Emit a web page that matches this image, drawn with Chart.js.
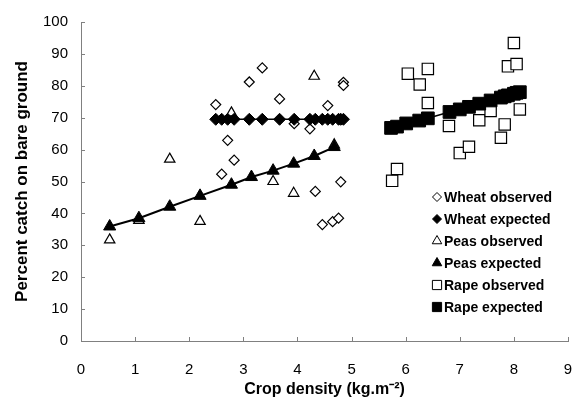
<!DOCTYPE html>
<html>
<head>
<meta charset="utf-8">
<script src="https://cdn.jsdelivr.net/npm/chart.js@4.4.1/dist/chart.umd.min.js"></script>
<style>
  body { margin: 0; background: #fff; }
</style>
</head>
<body>
<canvas id="myChart" width="575" height="400"></canvas>
<script>
// wheat
const wheatObsX = [2.49, 2.60, 2.71, 2.83, 3.11, 3.35, 3.67, 3.94, 4.23, 4.33, 4.46, 4.56, 4.65, 4.76, 4.80, 4.85, 4.85];
const wheatObsY = [74.1, 52.3, 62.9, 56.7, 81.2, 85.6, 75.9, 68.1, 66.5, 46.9, 36.5, 73.8, 37.4, 38.5, 49.9, 81.1, 80.1];
const wheatExpX = [2.49, 2.60, 2.71, 2.83, 3.11, 3.35, 3.67, 3.94, 4.23, 4.33, 4.46, 4.56, 4.65, 4.76, 4.80, 4.85];
const wheatExpY = [69.5, 69.5, 69.5, 69.5, 69.5, 69.5, 69.5, 69.5, 69.5, 69.5, 69.5, 69.5, 69.5, 69.5, 69.5, 69.5];

// peas
const peasObsX = [0.53, 1.07, 1.64, 2.20, 2.78, 3.55, 3.93, 4.31, 4.68];
const peasObsY = [31.7, 37.8, 57.0, 37.5, 71.5, 50.0, 46.3, 83.0, 61.5];
const peasExpX = [0.53, 1.07, 1.64, 2.20, 2.78, 3.15, 3.55, 3.93, 4.31, 4.68];
const peasExpY = [35.9, 38.5, 42.1, 45.5, 49.0, 51.4, 53.4, 55.6, 58.0, 60.8];

// rape
const rapeObsX = [5.75, 5.84, 6.04, 6.26, 6.41, 6.41, 6.80, 7.00, 7.17, 7.36, 7.57, 7.76, 7.83, 7.89, 8.00, 8.05, 8.11];
const rapeObsY = [50.2, 53.9, 83.8, 80.4, 85.3, 74.6, 67.4, 58.9, 60.9, 69.2, 72.1, 63.7, 67.9, 86.1, 93.4, 86.8, 72.6];
const rapeExpX = [5.73, 5.84, 6.01, 6.25, 6.41, 6.81, 7.00, 7.17, 7.36, 7.57, 7.76, 7.83, 7.89, 8.00, 8.05, 8.11];
const rapeExpY = [66.8, 67.2, 68.2, 69.1, 69.8, 71.8, 72.6, 73.4, 74.4, 75.4, 76.3, 76.7, 77.0, 77.5, 77.8, 78.0];

const seriesNames = ["Wheat observed", "Wheat expected", "Peas observed", "Peas expected", "Rape observed", "Rape expected"];

const FONT = "'Liberation Sans', Arial, Helvetica, sans-serif";

function pts(xs, ys) {
  return xs.map((x, i) => ({x: x, y: ys[i]}));
}

function observed(label, xs, ys, style, r) {
  return {
    label: label,
    data: pts(xs, ys),
    showLine: false,
    pointStyle: style,
    pointRadius: r,
    pointBackgroundColor: "#fff",
    pointBorderColor: "#000",
    pointBorderWidth: 1.2,
    order: 1
  };
}

function expected(label, xs, ys, style, r, lw) {
  return {
    label: label,
    data: pts(xs, ys),
    showLine: true,
    borderColor: "#000",
    borderWidth: lw,
    pointStyle: style,
    pointRadius: r,
    pointBackgroundColor: "#000",
    pointBorderColor: "#000",
    pointBorderWidth: 1,
    order: 0
  };
}

// small ticks pointing into the plot
const innerTicks = {
  id: "innerTicks",
  afterDraw(chart) {
    const ctx = chart.ctx;
    const a = chart.chartArea;
    ctx.save();
    ctx.strokeStyle = "#808080";
    ctx.lineWidth = 1;
    chart.scales.x.ticks.forEach(t => {
      const px = Math.round(chart.scales.x.getPixelForValue(t.value)) + 0.5;
      ctx.beginPath();
      ctx.moveTo(px, a.bottom);
      ctx.lineTo(px, a.bottom - 4);
      ctx.stroke();
    });
    chart.scales.y.ticks.forEach(t => {
      const py = Math.round(chart.scales.y.getPixelForValue(t.value)) + 0.5;
      ctx.beginPath();
      ctx.moveTo(a.left, py);
      ctx.lineTo(a.left + 4, py);
      ctx.stroke();
    });
    ctx.restore();
  }
};

// legend inside the plot, lower right
const insideLegend = {
  id: "insideLegend",
  afterDraw(chart) {
    const ctx = chart.ctx;
    ctx.save();
    ctx.font = "bold 14px " + FONT;
    ctx.textBaseline = "middle";
    chart.data.datasets.forEach((ds, i) => {
      const y = 197 + i * 22;
      const x = 437;
      ctx.fillStyle = ds.pointBackgroundColor;
      ctx.strokeStyle = "#000";
      const r = ds.pointStyle === "rect" ? 6.5 : (ds.pointStyle === "triangle" ? 5.5 : 4.5);
      Chart.helpers.drawPoint(ctx, {pointStyle: ds.pointStyle, radius: r, rotation: 0, borderWidth: 1}, x, y);
      ctx.fillStyle = "#000";
      ctx.fillText(ds.label, 444, y + 1);
    });
    ctx.restore();
  }
};

new Chart("myChart", {
  type: "scatter",
  data: {
    datasets: [
      observed(seriesNames[0], wheatObsX, wheatObsY, "rectRot", 5),
      expected(seriesNames[1], wheatExpX, wheatExpY, "rectRot", 6, 1.5),
      observed(seriesNames[2], peasObsX, peasObsY, "triangle", 6),
      expected(seriesNames[3], peasExpX, peasExpY, "triangle", 7, 2),
      observed(seriesNames[4], rapeObsX, rapeObsY, "rect", 8),
      expected(seriesNames[5], rapeExpX, rapeExpY, "rect", 9, 1.5)
    ]
  },
  options: {
    responsive: false,
    animation: false,
    layout: {autoPadding: false, padding: {top: 21, right: 7, left: 0, bottom: 0}},
    plugins: {
      legend: {display: false},
      tooltip: {enabled: false}
    },
    scales: {
      x: {
        type: "linear",
        min: 0,
        max: 9,
        afterFit(scale) {
          scale.height = 59;
          scale.paddingRight = 0;
        },
        grid: {display: true, drawOnChartArea: false, drawTicks: true, tickLength: 18, tickColor: "rgba(0,0,0,0)"},
        border: {color: "#808080", width: 1},
        ticks: {stepSize: 1, padding: 2, color: "#000", font: {family: FONT, size: 15}},
        title: {
          display: true,
          text: "Crop density (kg.m⁻²)",
          color: "#000",
          font: {family: FONT, size: 16, weight: "bold", lineHeight: 1},
          padding: {top: 0, bottom: 2}
        }
      },
      y: {
        type: "linear",
        min: 0,
        max: 100,
        afterFit(scale) { scale.width = 81; },
        grid: {display: true, drawOnChartArea: false, drawTicks: false},
        border: {color: "#808080", width: 1},
        ticks: {stepSize: 10, padding: 13, color: "#000", font: {family: FONT, size: 15}},
        title: {
          display: true,
          text: "Percent catch on bare ground",
          color: "#000",
          font: {family: FONT, size: 17, weight: "bold"},
          padding: {top: 12, bottom: 0}
        }
      }
    }
  },
  plugins: [innerTicks, insideLegend]
});
</script>
</body>
</html>
